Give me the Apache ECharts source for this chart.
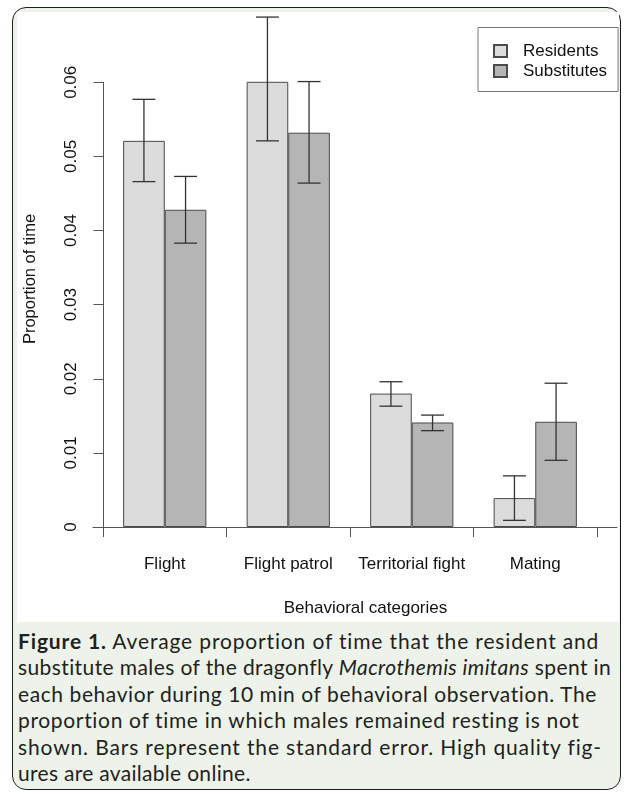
<!DOCTYPE html>
<html>
<head>
<meta charset="utf-8">
<script src="https://cdn.jsdelivr.net/npm/echarts@6/dist/echarts.min.js"></script>
<style>
  html, body { margin: 0; padding: 0; width: 624px; height: 794px; background: #ffffff; overflow: hidden; }
  #frame { position: absolute; left: 12px; top: 7px; width: 607px; height: 781px; border: 1.6px solid #1e1e1e; border-radius: 14px; background: #edf3ea; }
  #plotbg { position: absolute; left: 17px; top: 12px; width: 602px; height: 610px; background: #ffffff; }
  #chart { position: absolute; left: 0; top: 0; width: 624px; height: 794px; }
  #caption { position: absolute; left: 18px; top: 628px; font-family: Lato, "Open Sans", sans-serif; font-size: 21px; line-height: 26.4px; color: #231f20; white-space: nowrap; }
  #caption b { font-weight: 700; }
  #caption .l1 { letter-spacing: 0.85px; }
  #caption .l2 { letter-spacing: 0.4px; }
  #caption .l3 { letter-spacing: 0.58px; }
  #caption .l4 { letter-spacing: 0.66px; }
  #caption .l5 { letter-spacing: 0.86px; }
  #caption .l6 { letter-spacing: 0.3px; }
</style>
</head>
<body>
<div id="frame"></div>
<div id="plotbg"></div>
<div id="caption">
  <div class="l1"><b>Figure 1.</b> Average proportion of time that the resident and</div>
  <div class="l2">substitute males of the dragonfly <i>Macrothemis imitans</i> spent in</div>
  <div class="l3">each behavior during 10 min of behavioral observation. The</div>
  <div class="l4">proportion of time in which males remained resting is not</div>
  <div class="l5">shown. Bars represent the standard error. High quality fig-</div>
  <div class="l6">ures are available online.</div>
</div>
<div id="chart"></div>
<script>
// ---- data ----
var categories = ['Flight', 'Flight patrol', 'Territorial fight', 'Mating'];
var seriesNames = ['Residents', 'Substitutes'];
var residents = [0.0521, 0.0605, 0.0180, 0.0039];
var substitutes = [0.0428, 0.0532, 0.0141, 0.0142];
var residentsErrLow = [0.0466, 0.0521, 0.0163, 0.0009];
var residentsErrHigh = [0.0577, 0.0688, 0.0196, 0.0069];
var substitutesErrLow = [0.0383, 0.0464, 0.0130, 0.0090];
var substitutesErrHigh = [0.0473, 0.0601, 0.0151, 0.0194];
var yTicks = [0, 0.01, 0.02, 0.03, 0.04, 0.05, 0.06];

// ---- style ----
var FONT = '"Liberation Sans", Arial, sans-serif';
var BAR_FRAC = 0.337;
var CAP_FRAC = 0.093;

function errData(lo, hi) {
  return categories.map(function (c, i) { return [i, lo[i], hi[i]]; });
}
function errRender(side) {
  return function (params, api) {
    var idx = api.value(0);
    var band = api.size([1, 0])[0];
    var off = side * band * BAR_FRAC / 2;
    var capHalf = band * CAP_FRAC;
    var lo = api.coord([idx, api.value(1)]);
    var hi = api.coord([idx, api.value(2)]);
    var x = lo[0] + off;
    var st = { stroke: '#333333', lineWidth: 1.3 };
    return {
      type: 'group',
      children: [
        { type: 'line', shape: { x1: x, y1: lo[1], x2: x, y2: hi[1] }, style: st },
        { type: 'line', shape: { x1: x - capHalf, y1: lo[1], x2: x + capHalf, y2: lo[1] }, style: st },
        { type: 'line', shape: { x1: x - capHalf, y1: hi[1], x2: x + capHalf, y2: hi[1] }, style: st }
      ]
    };
  };
}

var chart = echarts.init(document.getElementById('chart'), null, { renderer: 'canvas' });
chart.setOption({
  backgroundColor: 'transparent',
  animation: false,
  textStyle: { fontFamily: FONT },
  grid: [
    { left: 103, right: 27, top: 82.3, bottom: 267 },
    { left: 93, right: 7, top: 82.3, bottom: 267 }
  ],
  legend: {
    orient: 'vertical',
    left: 478,
    top: 27.5,
    data: seriesNames,
    itemWidth: 13,
    itemHeight: 12,
    itemGap: 3,
    padding: [15, 11, 12, 15],
    borderColor: '#777777',
    borderWidth: 1,
    icon: 'rect',
    textStyle: { fontSize: 17, color: '#111111', fontFamily: FONT, padding: [0, 0, 0, 11] }
  },
  xAxis: [
    {
      type: 'category',
      gridIndex: 0,
      data: categories,
      boundaryGap: true,
      axisLine: { show: false },
      axisTick: { show: true, length: 10, lineStyle: { color: '#555555', width: 1 } },
      axisLabel: { margin: 29, fontSize: 17, color: '#111111', fontFamily: FONT, interval: 0 },
      splitLine: { show: false }
    },
    {
      type: 'value',
      gridIndex: 1,
      min: 0,
      max: 1,
      axisLine: { show: true, onZero: false, lineStyle: { color: '#555555', width: 1 } },
      axisTick: { show: false },
      axisLabel: { show: false },
      splitLine: { show: false }
    }
  ],
  yAxis: [
    {
      type: 'value',
      gridIndex: 0,
      min: 0,
      max: 0.06,
      interval: 0.01,
      axisLine: { show: true, lineStyle: { color: '#555555', width: 1 } },
      axisTick: { show: true, length: 9.5, lineStyle: { color: '#555555', width: 1 } },
      axisLabel: {
        rotate: 90,
        margin: 23,
        fontSize: 17,
        color: '#111111',
        fontFamily: FONT,
        formatter: function (v) { return v === 0 ? '0' : v.toFixed(2); }
      },
      splitLine: { show: false }
    },
    { type: 'value', gridIndex: 1, min: 0, max: 1, show: false }
  ],
  graphic: [
    {
      type: 'text', x: 30, y: 279, rotation: Math.PI / 2,
      style: { text: 'Proportion of time', fontSize: 16.5, fontFamily: FONT, fill: '#111111', align: 'center', verticalAlign: 'middle' }
    },
    {
      type: 'text', x: 365.5, y: 608,
      style: { text: 'Behavioral categories', fontSize: 17, fontFamily: FONT, fill: '#111111', align: 'center', verticalAlign: 'middle' }
    }
  ],
  series: [
    {
      name: seriesNames[0], type: 'bar', xAxisIndex: 0, yAxisIndex: 0,
      data: residents, barWidth: (BAR_FRAC * 100) + '%', barGap: '0%',
      itemStyle: { color: '#dcdcdc', borderColor: '#4a4a4a', borderWidth: 1 }
    },
    {
      name: seriesNames[1], type: 'bar', xAxisIndex: 0, yAxisIndex: 0,
      data: substitutes, barWidth: (BAR_FRAC * 100) + '%', barGap: '0%',
      itemStyle: { color: '#b5b5b5', borderColor: '#4a4a4a', borderWidth: 1 }
    },
    {
      type: 'custom', xAxisIndex: 0, yAxisIndex: 0, clip: false, z: 5,
      renderItem: errRender(-1), data: errData(residentsErrLow, residentsErrHigh),
      encode: { x: 0, y: [1, 2] }
    },
    {
      type: 'custom', xAxisIndex: 0, yAxisIndex: 0, clip: false, z: 5,
      renderItem: errRender(1), data: errData(substitutesErrLow, substitutesErrHigh),
      encode: { x: 0, y: [1, 2] }
    }
  ]
});
</script>
</body>
</html>
